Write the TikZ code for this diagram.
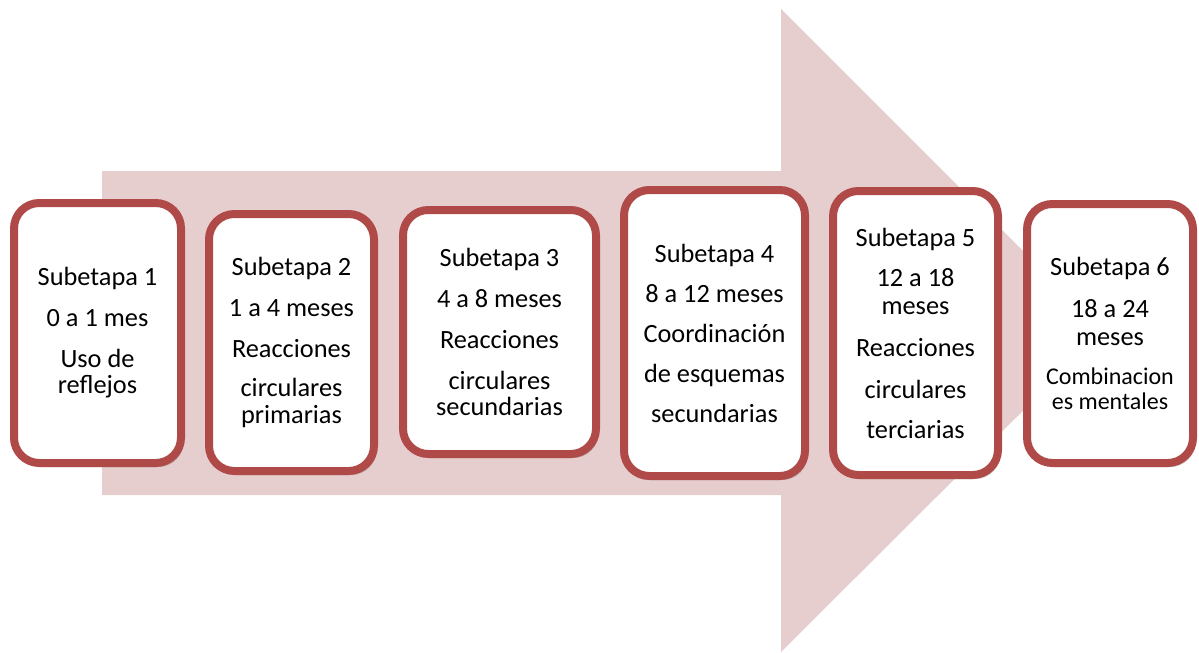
\documentclass[tikz,border=0pt]{standalone}
\usepackage{fontspec}
\setmainfont{Carlito}
\usetikzlibrary{shadows}
\definecolor{flecha}{RGB}{230,206,207}
\definecolor{borde}{RGB}{176,74,72}
\tikzset{etapa/.style 2 args={draw=borde, fill=white, line width=6pt,
    rounded corners=19pt, minimum width=#1*0.75pt, minimum height=#2*0.75pt,
    inner sep=0pt, align=center, text=black,
    font=\fontsize{19.75pt}{20.25pt}\selectfont,
    drop shadow={shadow xshift=2pt, shadow yshift=-3pt, opacity=.3, fill=black!70}}}

\begin{document}
\begin{tikzpicture}[x=0.75pt, y=-0.75pt]
    \useasboundingbox (0,0) rectangle (1199,653);
    % big arrow behind the stages
    \fill[flecha] (102,171) -- (781,171) -- (781,9) -- (1103,331) -- (781,652)
        -- (781,495) -- (102,495) -- cycle;

    \node[etapa={167}{260}] (s1) at (97.5,333)
        {Subetapa 1\\[10.5pt] 0 a 1 mes\\[10.5pt] Uso de\\[-0.75pt] reflejos};
    \node[etapa={165}{257}] (s2) at (291.5,342.5)
        {Subetapa 2\\[10.5pt] 1 a 4 meses\\[10.5pt] Reacciones\\[9.5pt] circulares\\[0pt] primarias};
    \node[etapa={193}{244}] (s3) at (499.5,332)
        {Subetapa 3\\[10.5pt] 4 a 8 meses\\[10.5pt] Reacciones\\[11pt] circulares\\[-0.75pt] secundarias};
    \node[etapa={181}{286}] (s4) at (714.5,333)
        {Subetapa 4\\[9.75pt] 8 a 12 meses\\[9.75pt] Coordinación\\[9.75pt] de esquemas\\[9.75pt] secundarias};
    \node[etapa={165}{284}] (s5) at (915.5,333)
        {Subetapa 5\\[9.75pt] 12 a 18\\[0.75pt] meses\\[11.25pt] Reacciones\\[11.25pt] circulares\\[9.75pt] terciarias};
    \node[etapa={166}{259}] (s6) at (1110,333.5)
        {Subetapa 6\\[11.25pt] 18 a 24\\[0.75pt] meses\\[9pt]
         \fontsize{18pt}{18.75pt}\selectfont Combinacion\\[-1.5pt]
         \fontsize{18pt}{18.75pt}\selectfont es mentales};
\end{tikzpicture}
\end{document}
